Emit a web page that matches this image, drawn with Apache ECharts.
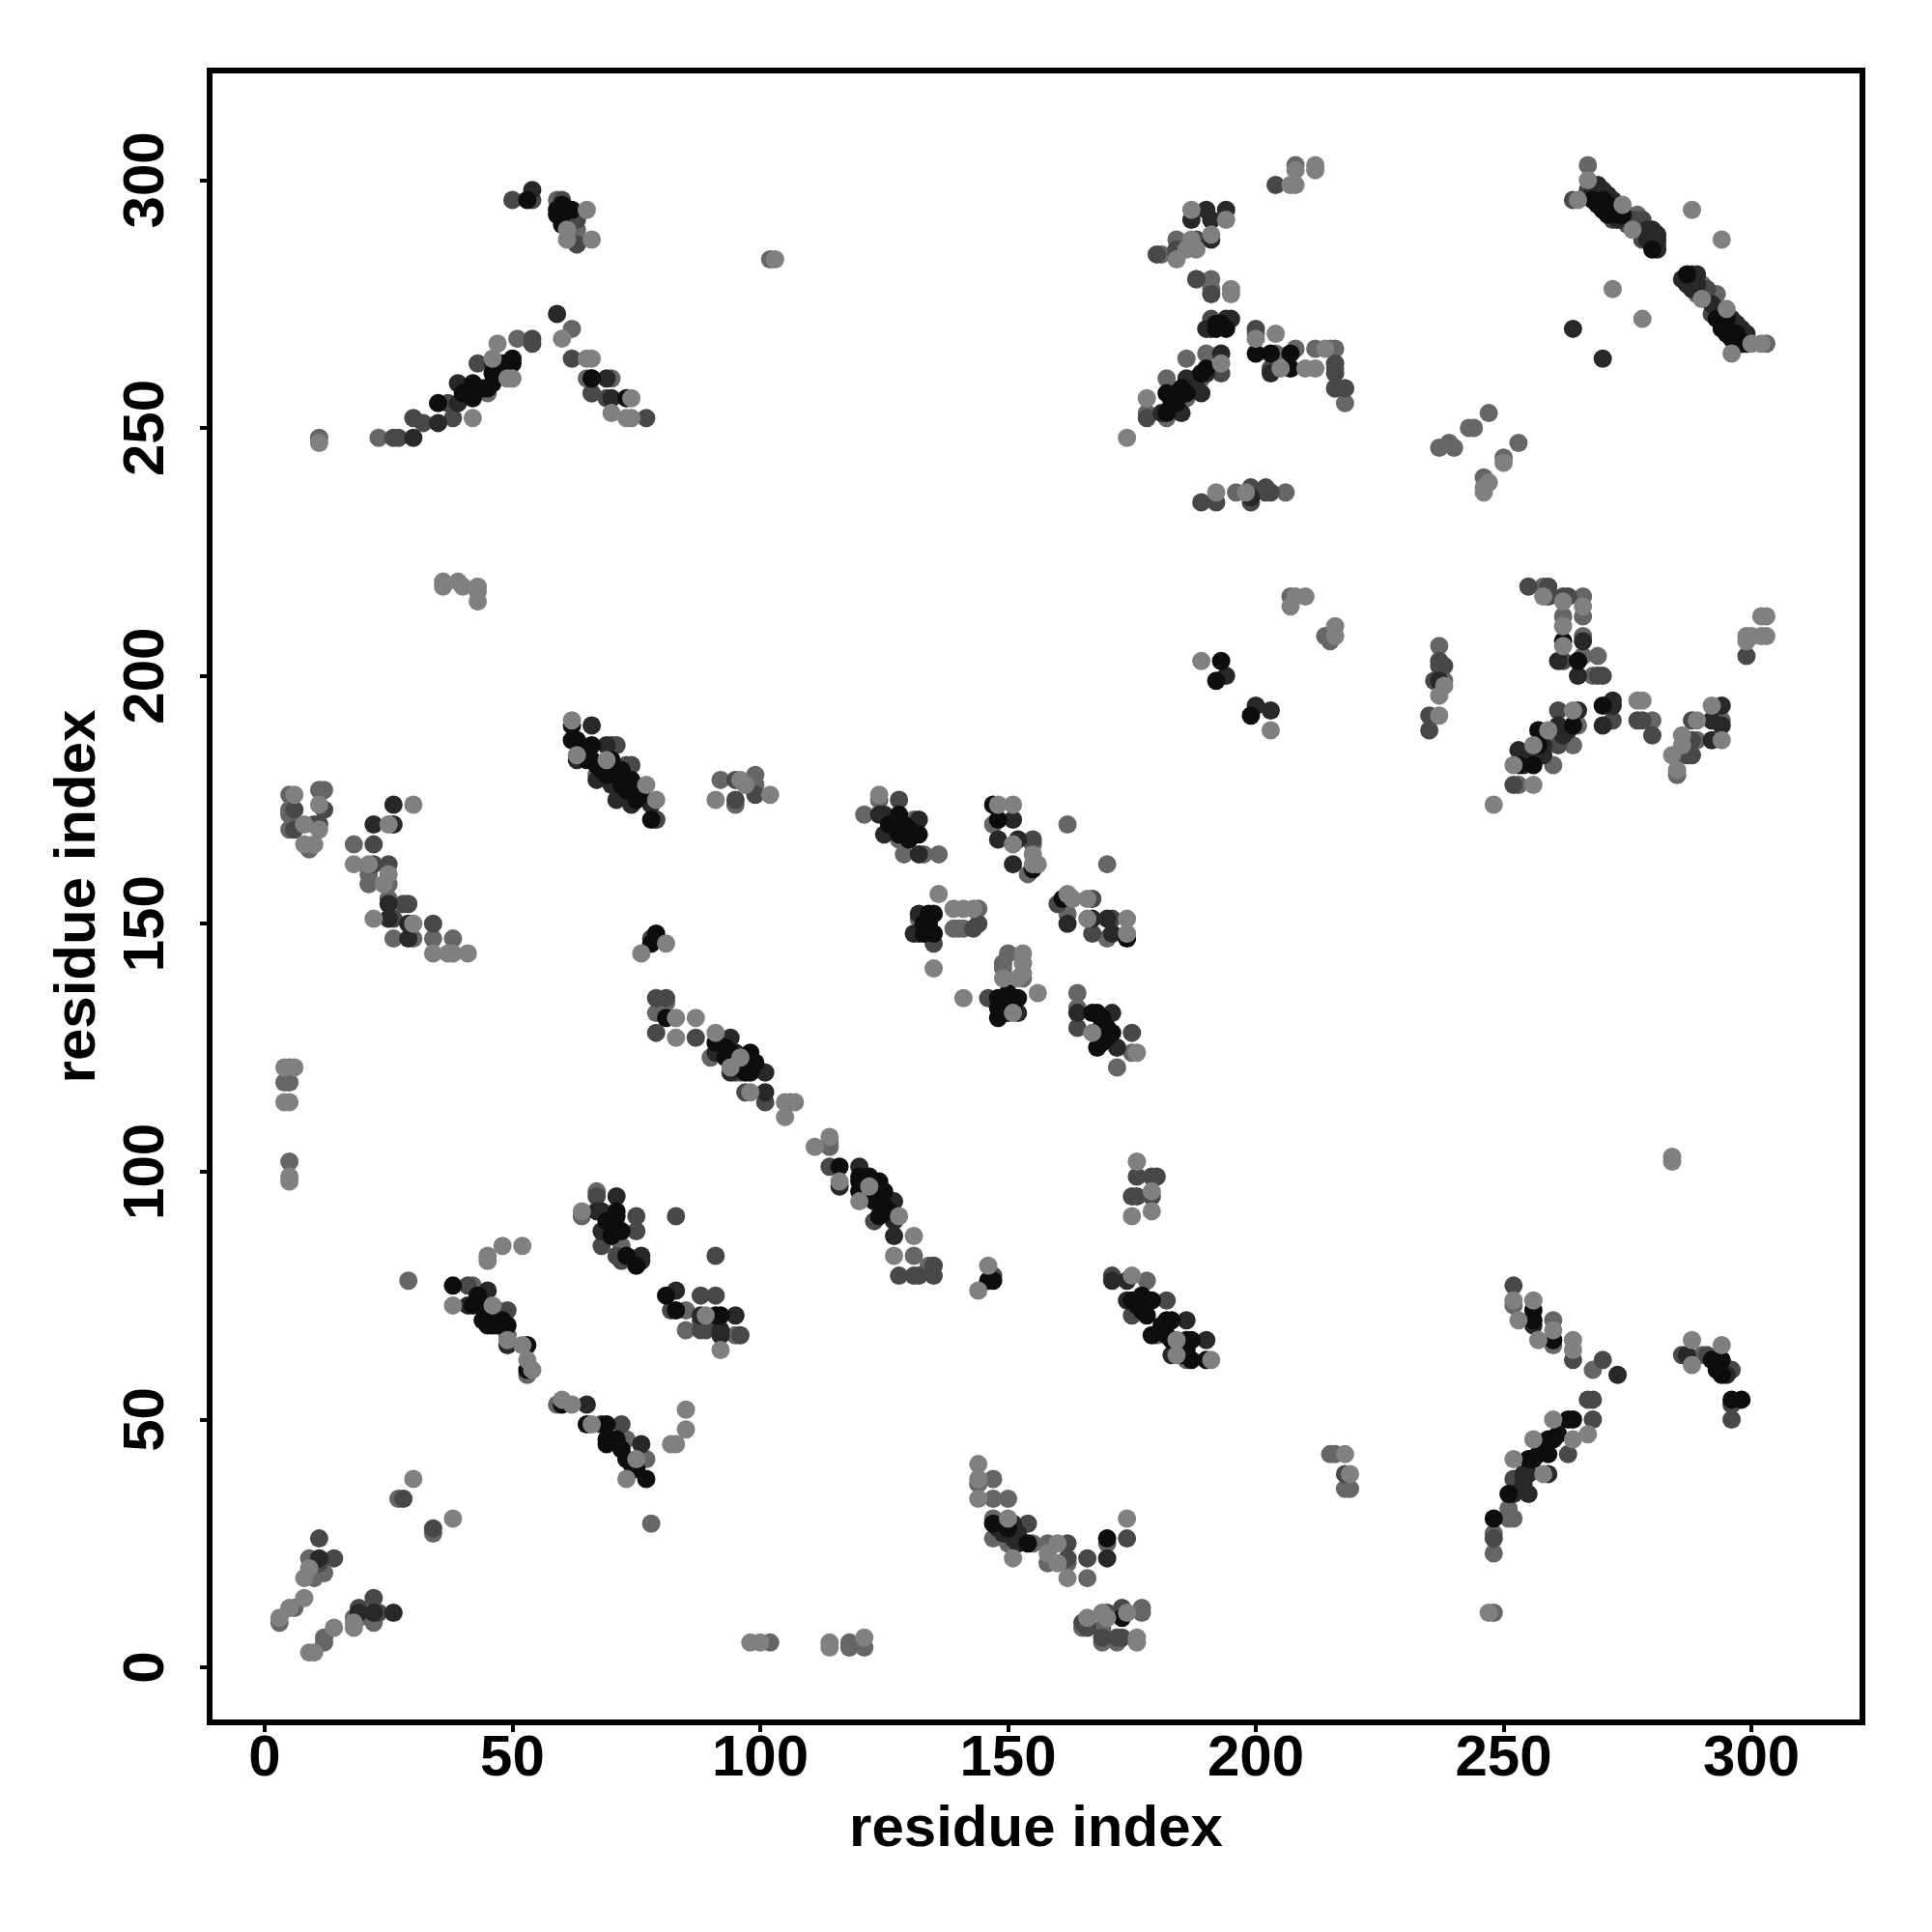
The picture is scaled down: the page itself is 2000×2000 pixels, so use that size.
<!DOCTYPE html>
<html><head><meta charset="utf-8">
<script src="https://cdn.jsdelivr.net/npm/echarts@6/dist/echarts.min.js"></script>
<style>html,body{margin:0;padding:0;background:#fff}#c{width:2000px;height:2000px}</style>
</head><body><div id="c"></div>
<script>
const xTicks=[0,50,100,150,200,250,300];
const yTicks=[0,50,100,150,200,250,300];
const axisTitle="residue index";
const blackPts=[[35,255],[42,256],[42,259],[46,259],[46,261],[50,263],[50,264],[53,296],[59,294],[59,293],[60,291],[62,294],[66,260],[73,256],
[62,190],[62,187],[63,187],[66,186],[66,183],[70,183],[71,180],[74,179],[75,175],[78,171],[79,148],[78,146],
[81,131],[91,126],[94,124],[98,124],[97,120],[98,120],[116,101],[120,98],[120,99],[120,96],[124,98],[124,95],[123,94],[124,91],
[72,88],[71,92],[71,91],[75,81],[81,75],[83,72],[91,71],[92,71],[42,73],[45,71],[45,69],[46,69],[49,69],[38,77],[53,65],[53,60],[60,53],[65,49],[69,49],[69,46],[69,45],[73,42],[77,38],
[128,172],[128,168],[129,168],[132,168],[147,174],[148,171],[155,161],[135,152],[135,148],[161,155],[148,135],[149,135],[152,135],[148,131],[148,133],[167,132],[168,132],[168,128],[171,128],[168,125],[174,147],[147,29],[150,28],[154,25],[147,78],[146,78],
[175,74],[178,74],[179,74],[178,71],[182,70],[183,70],[179,67],[183,66],[186,66],[187,66],[187,62],[190,62],[170,26],[173,10],
[260,66],[256,70],[256,72],[264,50],[263,50],[260,46],[259,46],[259,43],[255,42],[256,42],[251,35],[248,30],[292,62],[294,62],[293,60],[294,59],[296,54],[298,54],
[194,270],[182,257],[182,253],[186,257],[184,257],[190,262],[189,261],[200,265],[203,265],[207,265],[207,262],
[268,296],[270,294],[273,293],[280,286],[287,281],[294,270],[295,272],[296,268],[297,267],
[262,207],[265,203],[264,190],[257,189],[257,186],[253,182],[256,182],[270,194],[193,203],[192,199],[199,192]];
const blackFill=[[64,185],[65,183],[67,182],[68,181],[69,180],[72,178],[73,177],[72,181],[73,179],[76,176],
[93,123],[93,125],[96,122],[97,122],[99,122],[96,121],[121,97],[122,95],[123,97],[125,93],[122,99],[125,96],[126,92],
[177,72],[176,73],[177,75],[181,69],[182,67],[185,65],[185,63],[186,64],[43,75],[44,73],[44,70],[47,69],[48,70],
[69,90],[70,87],[73,83],[71,46],[72,44],[74,41],[75,40],[183,255],[184,255],[185,258],[126,170],[127,170],[129,170],[130,169],[130,167],
[133,150],[134,150],[134,152],[133,148],[150,134],[150,136],[150,132],[169,130],[170,129],[169,126],[170,127],[169,131],
[60,293],[61,294],[60,295],[40,257],[41,257],[44,258],[45,258],[48,263],[49,262],[192,271],[193,271],[192,270],
[269,295],[270,296],[271,295],[271,293],[274,293],[293,272],[295,270],[295,269],[297,269],[298,267],[299,267],[258,44],[257,43],[261,47]];
const nearBlackPts=[[30,248],[35,251],[39,259],[39,255],[46,263],[54,298],[59,273],[69,260],[66,260],[70,256],[26,174],[22,170],[26,170],[25,154],[29,150],[29,147],[25,151],
[66,190],[63,183],[69,186],[67,179],[70,178],[71,175],[74,174],[78,174],[94,127],[91,124],[95,124],[94,120],[101,120],[101,116],[120,101],[127,94],[127,90],[116,97],[127,87],
[71,95],[67,92],[68,92],[68,88],[76,83],[76,82],[75,82],[83,76],[88,71],[92,68],[92,67],[95,71],[45,76],[49,65],[65,53],[68,49],[76,45],[41,73],
[11,22],[19,11],[22,11],[26,11],[124,172],[125,172],[125,168],[132,171],[132,164],[151,171],[148,167],[152,167],[151,162],[132,152],[131,148],[132,148],[152,132],
[164,132],[171,132],[172,125],[167,151],[170,151],[171,148],[162,150],[171,78],[174,74],[174,78],[183,63],[186,70],[190,66],[151,29],[151,26],[170,22],
[256,69],[255,39],[259,39],[252,35],[255,35],[273,59],[287,63],[295,59],
[190,294],[194,294],[187,292],[191,292],[191,288],[190,270],[191,270],[194,272],[195,272],[181,253],[186,260],[189,257],[190,261],[193,265],[185,253],[203,261],[199,236],[264,270],[270,264],
[269,299],[268,298],[271,297],[273,292],[281,289],[281,288],[286,280],[289,281],[294,273],[297,271],[299,269],
[237,199],[266,207],[261,203],[265,200],[261,190],[265,193],[272,195],[272,194],[270,190],[292,191],[294,194],[294,190],[292,187],[253,185],[200,194],[203,193],[194,200]];
const nearBlackFill=[[268,299],[270,298],[272,296],[273,295],[279,288],[279,290],[280,290],[280,288],[281,286],[288,281],[287,279],[288,278],[289,279],
[292,275],[293,274],[296,272],[298,270],[148,28],[149,27],[152,27],[152,25],[258,186],[258,184],[255,184],[254,182],[262,188],[263,189],[187,259],[188,260],[188,258],[254,39],[254,37]];
const darkPts=[[26,248],[27,248],[30,252],[32,251],[38,252],[37,255],[43,263],[50,296],[54,296],[54,268],[54,267],[60,296],[63,292],[63,287],[62,264],[66,257],[69,256],[77,252],
[6,173],[6,169],[12,173],[10,170],[11,170],[22,166],[22,162],[25,162],[28,154],[29,154],[26,151],[34,150],
[70,186],[71,186],[73,182],[74,182],[79,171],[95,179],[99,176],[95,175],[78,147],[81,135],[79,135],[79,128],[87,127],[95,120],[97,116],[101,114],[114,101],[123,90],[128,79],[131,79],[135,81],[135,79],[132,79],
[67,95],[75,91],[75,88],[68,85],[71,83],[72,82],[83,91],[91,83],[82,72],[88,75],[91,75],[88,70],[88,68],[89,68],[96,67],[41,77],[49,72],[72,49],[11,26],[14,22],[11,21],[34,28],[28,34],[22,14],[19,12],[23,11],
[128,175],[155,167],[135,146],[143,149],[144,150],[146,135],[164,129],[175,128],[160,154],[167,155],[167,148],[171,151],[176,99],[179,99],[180,99],[175,95],[176,95],[179,95],
[171,79],[175,71],[182,74],[154,29],[162,25],[162,22],[166,22],[174,26],[147,79],[165,9],[166,8],[169,6],[170,11],[173,12],[172,6],[173,6],[218,39],
[252,77],[264,62],[270,62],[267,54],[268,54],[268,50],[263,43],[252,38],[248,26],[286,63],[291,63],[296,60],[296,53],[296,50],
[204,299],[188,288],[184,286],[184,285],[180,285],[188,280],[191,277],[191,272],[178,252],[193,261],[200,270],[203,262],[216,263],[216,261],[216,258],[218,258],[189,235],[192,235],[199,238],[199,235],[202,238],[202,237],[203,237],
[264,296],[267,298],[272,292],[278,288],[280,287],[278,292],[292,273],[291,278],
[237,203],[238,202],[237,202],[236,199],[235,192],[235,189],[255,218],[259,218],[259,216],[262,216],[263,216],[262,203],[269,200],[270,200],[261,193],[261,186],[252,178],[272,191],[280,188],[277,191],[278,191],[288,191],[288,187],[285,184],[287,184],[288,184],[299,204]];
const darkFill=[[274,292],[275,291],[276,292],[277,291],[278,291],[278,289]];
const midPts=[[23,248],[51,268],[45,257],[59,296],[63,290],[63,288],[65,260],[70,260],[62,270],[66,257],[11,248],[102,284],
[5,176],[5,173],[5,172],[5,169],[11,177],[12,177],[9,165],[18,166],[21,160],[21,158],[25,158],[25,155],[26,147],[30,147],[34,147],[38,147],[5,121],[4,118],[5,118],[5,102],
[67,180],[79,171],[92,179],[99,180],[99,178],[95,174],[79,132],[81,134],[90,123],[96,120],[106,114],[114,106],[114,105],[131,83],[134,81],
[67,96],[71,89],[72,85],[64,91],[85,72],[85,68],[95,67],[42,77],[47,72],[49,67],[53,59],[59,53],[73,46],[77,42],[78,29],[29,78],[27,34],[34,27],
[9,22],[10,18],[12,19],[6,12],[3,9],[12,6],[12,5],[19,10],[18,10],[22,9],[102,5],[118,5],[118,4],[121,4],
[124,175],[121,172],[131,171],[128,167],[133,164],[136,164],[129,164],[147,170],[155,166],[154,160],[132,151],[144,153],[139,149],[140,149],[141,149],[150,144],[149,142],[149,141],[153,139],[164,136],[164,133],[175,124],[172,121],
[162,170],[170,162],[162,152],[170,147],
[178,78],[180,67],[186,62],[147,38],[144,37],[147,34],[150,34],[147,30],[147,26],[150,25],[155,25],[158,25],[158,21],[162,21],[166,18],[170,25],[165,8],[169,8],[169,5],[172,5],[177,12],[177,11],
[215,43],[216,43],[218,36],[219,36],
[252,73],[260,70],[260,65],[268,60],[248,27],[248,23],[251,32],[251,30],[252,30],[248,11],[290,63],
[208,303],[184,288],[181,285],[191,280],[188,280],[191,278],[178,253],[182,260],[182,252],[186,264],[186,256],[189,260],[190,265],[200,269],[204,265],[208,266],[212,266],[216,266],[215,266],[216,262],[216,258],[218,258],[218,255],
[196,237],[206,237],[247,253],[243,250],[244,250],[237,246],[239,247],[240,246],[253,247],[250,244],[246,240],
[267,303],[269,296],[272,294],[275,293],[277,293],[277,290],[281,287],[288,280],[290,279],[289,277],[293,277],[291,276],[298,268],[303,267],
[237,206],[238,199],[258,218],[266,216],[262,212],[266,212],[266,208],[266,204],[269,204],[268,200],[265,190],[264,186],[260,182],[253,178],[280,191],[289,187],[294,191],[285,180],[207,216],[214,208],[215,207]];
const lightPts=[[42,252],[47,267],[46,264],[49,260],[50,260],[65,294],[61,290],[61,288],[66,288],[60,268],[65,264],[66,264],[74,256],[70,253],[73,252],[74,252],[11,247],[103,284],[36,218],[39,219],[40,218],[43,218],[43,217],[43,215],[36,219],
[6,176],[8,170],[11,174],[11,169],[8,166],[10,166],[30,174],[25,170],[18,162],[21,162],[25,160],[24,158],[22,151],[30,150],[34,144],[37,144],[38,144],[41,144],
[4,121],[6,121],[4,114],[5,114],[5,99],[5,98],[62,191],[63,184],[69,183],[77,178],[79,175],[91,175],[96,179],[97,178],[102,176],[76,144],[81,146],
[83,131],[87,131],[83,127],[91,128],[96,123],[94,121],[98,116],[105,114],[107,114],[105,111],[111,105],[114,107],[116,98],[120,94],[122,97],[128,91],[131,87],[127,83],
[64,92],[89,71],[92,64],[45,83],[45,82],[48,85],[52,85],[38,73],[46,73],[49,66],[52,65],[53,62],[54,60],[60,54],[62,53],[66,49],[73,38],[75,42],[85,52],[85,48],[83,45],[82,45],
[30,38],[38,30],[9,20],[8,18],[8,14],[5,12],[3,10],[14,8],[9,3],[10,3],[18,8],[18,9],[98,5],[100,5],[114,5],[114,4],[121,6],
[124,176],[148,174],[151,174],[151,166],[155,162],[156,162],[155,164],[136,156],[139,153],[141,153],[143,153],[135,141],[153,144],[149,139],[153,142],[153,140],[152,139],[141,135],[156,136],[151,132],
[167,128],[176,124],[162,156],[163,155],[166,155],[166,151],[174,151],[174,148],[176,102],[179,96],[175,91],[179,92],[146,81],[144,76],
[175,79],[184,66],[184,63],[191,62],[144,41],[144,38],[144,34],[150,30],[151,22],[160,25],[158,23],[160,21],[162,18],[174,30],[166,10],[169,11],[170,10],[174,11],[176,6],[176,5],[218,43],[219,39],
[252,74],[253,70],[256,74],[257,66],[260,68],[264,66],[264,64],[267,47],[260,50],[264,46],[256,46],[258,39],[252,42],[247,11],[284,103],[284,102],[288,66],[288,61],[294,65],
[208,302],[212,303],[212,302],[207,299],[208,299],[194,292],[187,294],[187,288],[191,289],[184,284],[186,286],[188,286],[195,278],[195,277],[174,248],[178,256],[193,263],[200,268],[204,269],[205,262],[214,266],[210,262],[212,262],[192,237],[198,237],[250,243],[247,239],[246,237],[246,238],
[267,300],[265,296],[274,295],[276,290],[288,294],[294,288],[272,278],[278,272],[290,276],[295,274],[300,267],[302,267],[296,265],
[238,198],[237,196],[237,192],[258,216],[262,215],[266,214],[262,210],[262,206],[264,193],[259,189],[256,186],[252,182],[256,178],[248,174],[277,195],[278,195],[292,194],[289,191],[286,188],[286,186],[294,187],[284,184],[285,181],[299,208],[299,207],[300,208],[302,208],[303,208],[302,212],[303,212],[189,203],[203,189],[207,214],[210,216],[208,216],[216,210],[216,208]];

const layers=[[midPts,'#666666',0],[darkPts.concat(darkFill),'#484848',1],[nearBlackPts.concat(nearBlackFill),'#282828',2],[blackPts.concat(blackFill),'#0d0d0d',3],[lightPts,'#808080',4]];
const font={fontFamily:'Liberation Sans',fontWeight:'bold',fontSize:60,color:'#000'};
function axis(ticks,extent,name,gap,rot,margin){return{
  type:'value',min:extent[0],max:extent[1],name:name,nameLocation:'middle',nameGap:gap,
  nameTextStyle:Object.assign({},font),
  splitLine:{show:false},
  axisLine:{show:false,onZero:false},
  axisTick:{show:true,length:10,inside:false,customValues:ticks,lineStyle:{color:'#000',width:4}},
  axisLabel:{show:true,rotate:rot,margin:margin,customValues:ticks,showMinLabel:true,showMaxLabel:true,hideOverlap:false,formatter:v=>String(v),fontFamily:font.fontFamily,fontWeight:font.fontWeight,fontSize:font.fontSize,color:font.color}
};}
const chart=echarts.init(document.getElementById('c'),null,{renderer:'canvas'});
chart.setOption({
  animation:false,backgroundColor:'#fff',tooltip:{show:false},
  grid:{show:true,left:217,right:72,top:73,bottom:217,borderWidth:6,borderColor:'#000',backgroundColor:'transparent',containLabel:false},
  xAxis:axis(xTicks,[-11.1,322.4],axisTitle,81,0,8),
  yAxis:axis(yTicks,[-11.1,322.1],axisTitle,106,90,35),
  series:layers.map(l=>({type:'scatter',data:l[0],symbol:'circle',symbolSize:19,silent:true,z:2+l[2],itemStyle:{color:l[1],opacity:1},emphasis:{disabled:true}}))
});
</script></body></html>
